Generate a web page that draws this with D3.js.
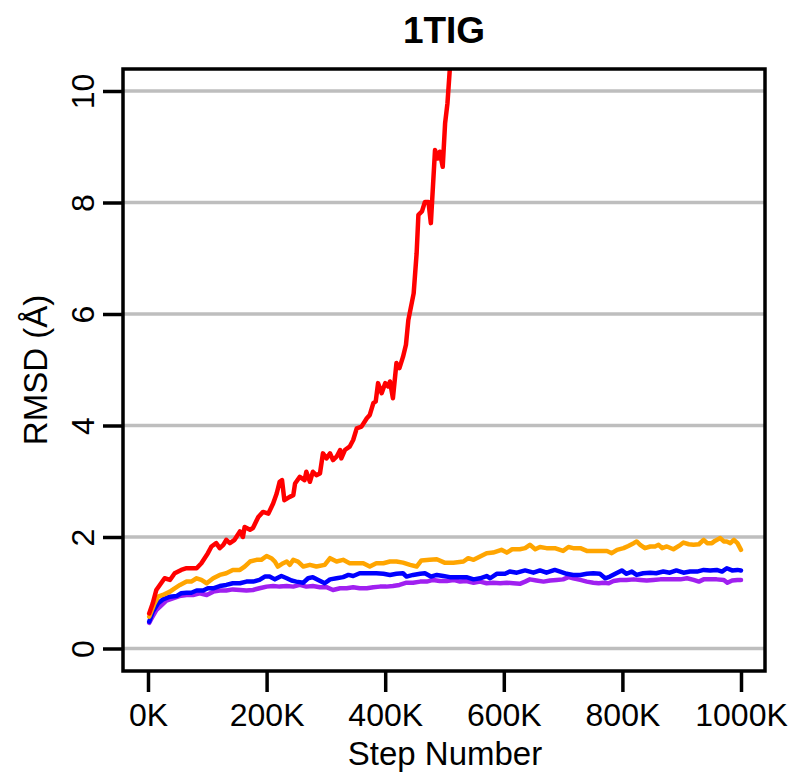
<!DOCTYPE html>
<html>
<head>
<meta charset="utf-8">
<script src="https://cdn.jsdelivr.net/npm/d3@7"></script>
<style>
  html, body { margin: 0; padding: 0; background: #fff; }
  svg { display: block; font-family: "Liberation Sans", Arial, Helvetica, sans-serif; }
</style>
</head>
<body>
<svg id="chart" width="796" height="777"></svg>
<script>
// RMSD traces for 1TIG, step number in thousands
const chartTitle = "1TIG";
const xTicks = [0, 200, 400, 600, 800, 1000];
const xTickLabels = ["0K", "200K", "400K", "600K", "800K", "1000K"];
const yTicks = [0, 2, 4, 6, 8, 10];

const redSeries = [[2,0.63],[8,0.81],[14,1.05],[28,1.26],[37,1.23],[45,1.35],[56,1.41],[65,1.44],[82,1.44],[90,1.53],[101,1.71],[107,1.83],[115,1.89],[121,1.80],[127,1.86],[132,1.95],[138,1.89],[146,1.95],[155,2.10],[160,2.00],[163,2.18],[172,2.13],[177,2.16],[186,2.36],[194,2.45],[203,2.42],[211,2.60],[217,2.78],[222,2.99],[226,3.02],[230,2.66],[239,2.72],[245,2.75],[248,2.96],[256,3.08],[264,3.02],[267,3.17],[273,2.99],[278,3.17],[284,3.11],[290,3.14],[295,3.50],[301,3.41],[307,3.50],[312,3.38],[318,3.44],[324,3.56],[326,3.41],[332,3.56],[340,3.62],[346,3.74],[352,3.95],[360,3.98],[369,4.13],[374,4.19],[380,4.40],[384,4.43],[388,4.76],[394,4.58],[400,4.76],[405,4.70],[408,4.79],[413,4.49],[419,5.12],[424,5.03],[430,5.23],[435,5.45],[439,5.89],[448,6.37],[453,7.09],[456,7.78],[462,7.84],[467,8.01],[473,8.01],[477,7.63],[484,8.94],[489,8.79],[492,8.91],[497,8.64],[501,9.42],[505,9.78],[509,10.4],[513,11.2]];

const orangeSeries = [[2,0.57],[11,0.81],[17,0.93],[25,0.96],[37,1.02],[45,1.08],[54,1.14],[65,1.20],[73,1.20],[82,1.26],[90,1.23],[99,1.17],[110,1.26],[121,1.32],[132,1.35],[143,1.41],[155,1.41],[163,1.47],[172,1.56],[183,1.59],[191,1.59],[200,1.66],[208,1.62],[214,1.56],[219,1.47],[228,1.53],[234,1.56],[239,1.50],[245,1.59],[253,1.56],[262,1.47],[273,1.50],[284,1.47],[298,1.50],[307,1.62],[318,1.56],[329,1.59],[340,1.53],[352,1.53],[363,1.53],[374,1.47],[385,1.53],[397,1.53],[408,1.56],[419,1.56],[430,1.54],[442,1.50],[453,1.47],[461,1.58],[475,1.59],[487,1.60],[500,1.54],[515,1.54],[532,1.56],[540,1.62],[549,1.59],[560,1.65],[571,1.71],[582,1.72],[596,1.77],[605,1.72],[614,1.78],[627,1.78],[636,1.80],[644,1.86],[653,1.78],[661,1.82],[672,1.80],[686,1.80],[700,1.75],[709,1.82],[717,1.80],[729,1.80],[740,1.75],[751,1.75],[762,1.75],[774,1.75],[782,1.71],[791,1.77],[802,1.80],[810,1.84],[819,1.89],[824,1.92],[830,1.86],[838,1.80],[847,1.83],[855,1.83],[861,1.86],[867,1.80],[875,1.83],[886,1.78],[898,1.86],[903,1.90],[912,1.87],[920,1.86],[929,1.87],[937,1.95],[943,1.89],[951,1.89],[956,1.93],[965,1.98],[971,1.92],[976,1.92],[982,1.89],[988,1.95],[994,1.89],[1000,1.77]];

const blueSeries = [[2,0.48],[8,0.66],[17,0.81],[25,0.88],[37,0.93],[48,0.94],[56,0.99],[65,1.00],[73,1.00],[82,1.04],[93,1.04],[101,1.08],[110,1.08],[121,1.12],[132,1.14],[143,1.17],[155,1.17],[166,1.20],[177,1.20],[188,1.23],[197,1.29],[205,1.29],[214,1.24],[225,1.30],[234,1.26],[242,1.22],[250,1.20],[262,1.18],[270,1.26],[278,1.28],[287,1.23],[298,1.17],[307,1.24],[318,1.26],[329,1.28],[338,1.32],[346,1.30],[357,1.35],[371,1.35],[385,1.35],[397,1.34],[408,1.32],[419,1.34],[430,1.35],[436,1.29],[447,1.32],[459,1.34],[467,1.35],[477,1.29],[487,1.32],[498,1.30],[509,1.28],[520,1.28],[537,1.28],[549,1.24],[560,1.26],[571,1.30],[577,1.26],[588,1.34],[602,1.34],[610,1.38],[622,1.36],[636,1.40],[650,1.36],[661,1.40],[672,1.36],[686,1.41],[695,1.38],[706,1.34],[717,1.32],[729,1.32],[740,1.34],[751,1.35],[762,1.34],[771,1.26],[779,1.29],[788,1.34],[799,1.40],[807,1.34],[816,1.38],[824,1.32],[835,1.35],[847,1.36],[857,1.35],[869,1.38],[880,1.36],[891,1.40],[903,1.36],[914,1.38],[926,1.38],[937,1.41],[948,1.40],[959,1.41],[968,1.38],[976,1.44],[985,1.40],[994,1.41],[1000,1.40]];

const purpleSeries = [[2,0.46],[6,0.54],[14,0.69],[23,0.78],[31,0.86],[42,0.90],[53,0.94],[65,0.96],[76,0.96],[87,0.99],[99,0.96],[110,1.02],[121,1.04],[132,1.04],[143,1.06],[155,1.05],[166,1.04],[177,1.05],[188,1.08],[200,1.11],[211,1.12],[222,1.11],[234,1.12],[245,1.11],[256,1.14],[267,1.11],[278,1.12],[290,1.10],[301,1.10],[312,1.05],[324,1.08],[335,1.08],[346,1.10],[357,1.08],[369,1.08],[380,1.10],[391,1.11],[402,1.11],[413,1.12],[424,1.14],[436,1.18],[447,1.18],[459,1.20],[470,1.20],[481,1.23],[492,1.21],[504,1.21],[515,1.23],[526,1.20],[537,1.21],[549,1.18],[560,1.20],[571,1.17],[582,1.18],[594,1.17],[605,1.18],[616,1.17],[627,1.16],[636,1.20],[644,1.24],[655,1.22],[667,1.20],[678,1.22],[689,1.23],[700,1.24],[709,1.28],[717,1.26],[729,1.23],[740,1.20],[751,1.18],[760,1.17],[768,1.18],[777,1.17],[785,1.21],[796,1.23],[807,1.23],[819,1.24],[830,1.23],[841,1.22],[852,1.23],[864,1.24],[875,1.24],[886,1.24],[898,1.24],[909,1.26],[920,1.23],[929,1.20],[937,1.24],[948,1.24],[959,1.24],[971,1.23],[977,1.18],[985,1.22],[994,1.23],[1000,1.23]];

const seriesList = [
  { data: purpleSeries, color: "#a020f0" },
  { data: blueSeries,   color: "#0000ff" },
  { data: orangeSeries, color: "#ffa500" },
  { data: redSeries,    color: "#ff0000" }
];

// plot frame
const box = { left: 123, right: 765, top: 69, bottom: 671 };

const x = d3.scaleLinear().domain([0, 1000]).range([148, 741]);
const y = d3.scaleLinear().domain([0, 10]).range([648.5, 91]);

const svg = d3.select("#chart");

svg.append("defs").append("clipPath").attr("id", "plotClip")
  .append("rect")
  .attr("x", box.left).attr("y", box.top)
  .attr("width", box.right - box.left).attr("height", box.bottom - box.top);

// horizontal grid lines
svg.append("g").selectAll("line").data(yTicks).join("line")
  .attr("x1", box.left).attr("x2", box.right)
  .attr("y1", d => y(d)).attr("y2", d => y(d))
  .attr("stroke", "#bebebe").attr("stroke-width", 3.5);

// traces
const line = d3.line().x(d => x(d[0])).y(d => y(d[1]));
svg.append("g").attr("clip-path", "url(#plotClip)")
  .selectAll("path").data(seriesList).join("path")
  .attr("d", d => line(d.data))
  .attr("fill", "none")
  .attr("stroke", d => d.color)
  .attr("stroke-width", 4.5)
  .attr("stroke-linejoin", "round")
  .attr("stroke-linecap", "round");

// frame
svg.append("rect")
  .attr("x", box.left).attr("y", box.top)
  .attr("width", box.right - box.left).attr("height", box.bottom - box.top)
  .attr("fill", "none").attr("stroke", "#000").attr("stroke-width", 3.5);

// x axis
const xAxis = d3.axisBottom(x).tickValues(xTicks)
  .tickFormat((d, i) => xTickLabels[i]).tickSize(21).tickPadding(11);
const gx = svg.append("g").attr("transform", `translate(0,${box.bottom})`).call(xAxis);
gx.select(".domain").remove();
gx.selectAll(".tick line").attr("stroke", "#000").attr("stroke-width", 3.5);
gx.selectAll(".tick text").attr("fill", "#000")
  .style("font-size", "32px").style("font-family", "'Liberation Sans', Arial, sans-serif");

// y axis
const yAxis = d3.axisLeft(y).tickValues(yTicks).tickSize(20).tickPadding(9);
const gy = svg.append("g").attr("transform", `translate(${box.left},0)`).call(yAxis);
gy.select(".domain").remove();
gy.selectAll(".tick line").attr("stroke", "#000").attr("stroke-width", 3.5);
gy.selectAll(".tick text").attr("fill", "#000")
  .attr("x", null).attr("dy", null)
  .attr("text-anchor", "middle")
  .attr("transform", "translate(-29,0) rotate(-90)")
  .style("font-size", "32px").style("font-family", "'Liberation Sans', Arial, sans-serif");

// titles
svg.append("text")
  .attr("x", 444).attr("y", 43)
  .attr("text-anchor", "middle")
  .style("font-size", "37px").style("font-weight", "bold")
  .text(chartTitle);

svg.append("text")
  .attr("x", 445).attr("y", 765)
  .attr("text-anchor", "middle")
  .style("font-size", "33px")
  .text("Step Number");

svg.append("text")
  .attr("transform", `translate(47,${(box.top + box.bottom) / 2}) rotate(-90)`)
  .attr("text-anchor", "middle")
  .style("font-size", "33px")
  .text("RMSD (Å)");
</script>
</body>
</html>
